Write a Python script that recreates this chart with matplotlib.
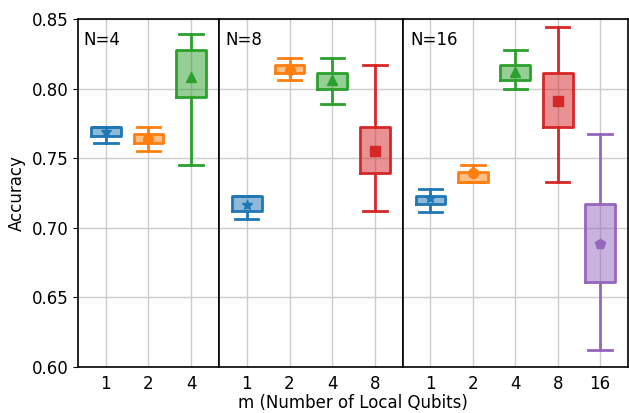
import matplotlib.pyplot as plt

# per panel: N value, m values, and box stats (whisker low, q1, q3, whisker high, mean)
n_values = [4, 8, 16]
m_labels = [["1", "2", "4"], ["1", "2", "4", "8"], ["1", "2", "4", "8", "16"]]

whis_lo = [[0.761, 0.755, 0.745],
           [0.706, 0.806, 0.789, 0.712],
           [0.711, 0.733, 0.800, 0.733, 0.612]]
box_lo = [[0.766, 0.761, 0.794],
          [0.712, 0.811, 0.800, 0.739],
          [0.717, 0.733, 0.806, 0.772, 0.661]]
box_hi = [[0.772, 0.767, 0.828],
          [0.723, 0.817, 0.811, 0.772],
          [0.723, 0.740, 0.817, 0.811, 0.717]]
whis_hi = [[0.772, 0.772, 0.839],
           [0.723, 0.822, 0.822, 0.817],
           [0.728, 0.745, 0.828, 0.844, 0.767]]
means = [[0.769, 0.764, 0.808],
         [0.716, 0.813, 0.806, 0.755],
         [0.721, 0.739, 0.812, 0.791, 0.688]]

colors = ["tab:blue", "tab:orange", "tab:green", "tab:red", "tab:purple"]
markers = ["*", "o", "^", "s", "p"]

fig, axes = plt.subplots(1, 3, figsize=(6.29, 4.13), dpi=100, sharey=True,
                         gridspec_kw={"width_ratios": [141, 184, 225], "wspace": 0})
fig.subplots_adjust(left=0.124, right=0.998, top=0.954, bottom=0.112)

for p, ax in enumerate(axes):
    k = len(m_labels[p])
    for i in range(k):
        st = [{"whislo": whis_lo[p][i], "q1": box_lo[p][i], "med": means[p][i],
               "q3": box_hi[p][i], "whishi": whis_hi[p][i], "mean": means[p][i]}]
        c = colors[i]
        ax.bxp(st, positions=[i + 1], widths=0.7, capwidths=0.55,
               patch_artist=True, showmeans=True, showfliers=False,
               boxprops=dict(facecolor=c, alpha=0.5, edgecolor="none"),
               whiskerprops=dict(color=c, lw=2), capprops=dict(color=c, lw=2),
               medianprops=dict(lw=0),
               meanprops=dict(marker=markers[i], markerfacecolor=c,
                              markeredgecolor=c, markersize=7))
        # solid outline over the translucent fill
        ax.bxp(st, positions=[i + 1], widths=0.7, capwidths=0.55,
               showfliers=False, showcaps=False,
               boxprops=dict(color=c, lw=2), whiskerprops=dict(lw=0),
               medianprops=dict(lw=0))
    ax.set_xlim(0.35, k + 0.65)
    ax.set_xticks(range(1, k + 1))
    ax.set_xticklabels(m_labels[p])
    ax.tick_params(axis="x", length=0, labelsize=12, pad=6)
    ax.tick_params(axis="y", labelsize=12)
    ax.grid(True, color="#cccccc", lw=1)
    ax.set_axisbelow(True)
    for s in ax.spines.values():
        s.set_linewidth(1.2)
    ax.text(0.035, 0.965, f"N={n_values[p]}", transform=ax.transAxes,
            fontsize=12, va="top", ha="left")
    if p > 0:
        ax.tick_params(axis="y", length=0)

axes[0].set_ylim(0.60, 0.85)
axes[0].set_yticks([0.60, 0.65, 0.70, 0.75, 0.80, 0.85])
axes[0].set_ylabel("Accuracy", fontsize=12)
fig.text(0.561, 0.012, "m (Number of Local Qubits)", ha="center", va="baseline", fontsize=12)

fig.savefig("out.png", dpi=100)
